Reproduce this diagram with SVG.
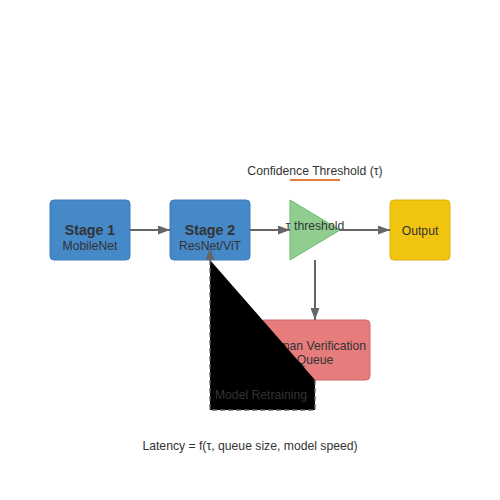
<svg xmlns="http://www.w3.org/2000/svg" width="500" height="500" viewBox="0 0 500 500">
<defs>
<marker id="arr" viewBox="0 0 12 9" refX="12" refY="4.5" markerWidth="12" markerHeight="9" markerUnits="userSpaceOnUse" orient="auto">
<path d="M0,0 L12,4.5 L0,9 Z" fill="#666"/>
</marker>
<marker id="arrB" viewBox="0 0 12 9" refX="0" refY="4.5" markerWidth="12" markerHeight="9" markerUnits="userSpaceOnUse" orient="auto">
<path d="M0,0 L12,4.5 L0,9 Z" fill="#666"/>
</marker>
</defs>
<style>
text{font-family:"Liberation Sans",Arial,sans-serif;fill:#333;text-anchor:middle}
.stage{fill:#4689c8;stroke:#3a7bbd;stroke-width:1}
.t{font-size:12.2px}
.b{font-size:14.2px;font-weight:bold}
.conn{stroke:#666;stroke-width:2;fill:none}
</style>
<rect width="500" height="500" fill="#fff"/>
<g id="stage1">
<rect class="stage" x="50" y="200" width="80" height="60" rx="4"/>
<text class="b" x="90" y="235">Stage 1</text>
<text class="t" x="90" y="250">MobileNet</text>
</g>
<g id="stage2">
<rect class="stage" x="170" y="200" width="80" height="60" rx="4"/>
<text class="b" x="210" y="235">Stage 2</text>
<text class="t" x="210" y="250">ResNet/ViT</text>
</g>
<g id="threshold">
<polygon points="290,200 290,260 340,230" fill="#8fce8f" stroke="#6cb86c" stroke-width="1"/>
<text class="t" x="315" y="230">τ threshold</text>
</g>
<g id="output">
<rect x="390" y="200" width="60" height="60" rx="4" fill="#f1c40f" stroke="#dcb10c" stroke-width="1"/>
<text class="t" x="420" y="235">Output</text>
</g>
<g id="human">
<rect x="260" y="320" width="110" height="60" rx="4" fill="#e67c7c" stroke="#d06666" stroke-width="1"/>
<text class="t" x="315" y="350">Human Verification</text>
<text class="t" x="315" y="364">Queue</text>
</g>
<g id="connectors">
<line class="conn" x1="130" y1="230" x2="170" y2="230" marker-end="url(#arr)"/>
<line class="conn" x1="250" y1="230" x2="290" y2="230" marker-end="url(#arr)"/>
<line class="conn" x1="340" y1="230" x2="390" y2="230" marker-end="url(#arr)"/>
<line class="conn" x1="315" y1="260" x2="315" y2="320" marker-end="url(#arr)"/>
<path d="M315,380 L315,410 L210,410 L210,260" stroke="#666" stroke-width="1.3" stroke-dasharray="5,3" marker-end="url(#arrB)"/>
<text class="t" x="261" y="399">Model Retraining</text>
</g>
<g id="annotation">
<text class="t" x="315" y="175">Confidence Threshold (τ)</text>
<line x1="290" y1="180" x2="340" y2="180" stroke="#e07b39" stroke-width="2"/>
</g>
<text class="t" x="250" y="450">Latency = f(τ, queue size, model speed)</text>
</svg>
